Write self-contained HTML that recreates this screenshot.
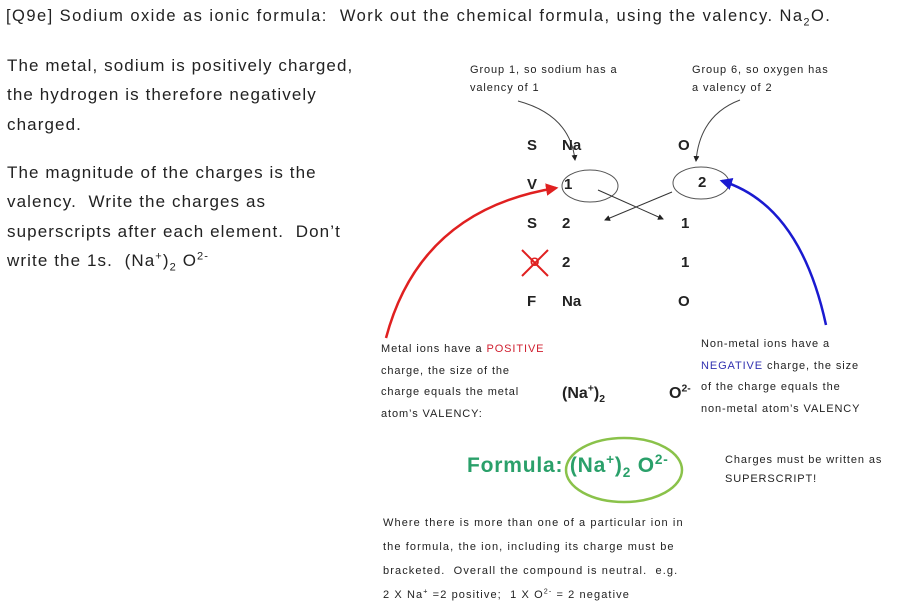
<!DOCTYPE html>
<html><head><meta charset="utf-8"><style>
body{margin:0;width:907px;height:602px;background:#fff;position:relative;overflow:hidden;font-family:"Liberation Sans",sans-serif;color:#222}
.a{position:absolute;white-space:nowrap}
.p{font-size:17px;line-height:29.3px;letter-spacing:1.1px}
.s{font-size:11px;line-height:21.5px;letter-spacing:0.9px}
.b{font-weight:bold;font-size:15px}
sup{font-size:65%;vertical-align:super;line-height:0}
sub{font-size:65%;vertical-align:sub;line-height:0}
</style></head><body>
<div class="a" style="left:6px;top:7px;font-size:16.5px;letter-spacing:1.45px">[Q9e] Sodium oxide as ionic formula:&nbsp; Work out the chemical formula, using the valency. Na<sub>2</sub>O.</div>
<div class="a p" style="left:7px;top:51px">The metal, sodium is positively charged,<br>the hydrogen is therefore negatively<br>charged.</div>
<div class="a p" style="left:7px;top:158px">The magnitude of the charges is the<br>valency.&nbsp; Write the charges as<br>superscripts after each element.&nbsp; Don’t<br>write the 1s.&nbsp; (Na<sup>+</sup>)<sub>2</sub> O<sup>2-</sup></div>
<div class="a s" style="left:470px;top:61px;line-height:18px">Group 1, so sodium has a<br>valency of 1</div>
<div class="a s" style="left:692px;top:61px;line-height:18px">Group 6, so oxygen has<br>a valency of 2</div>
<svg class="a" style="left:0;top:0" width="907" height="602">
<defs><marker id="m" markerWidth="6" markerHeight="6" refX="5" refY="3" orient="auto"><path d="M0,0L6,3L0,6z" fill="#222"/></marker>
<marker id="r" markerWidth="5" markerHeight="5" refX="4" refY="2.5" orient="auto"><path d="M0,0L5,2.5L0,5z" fill="#e02020"/></marker>
<marker id="bl" markerWidth="5" markerHeight="5" refX="4" refY="2.5" orient="auto"><path d="M0,0L5,2.5L0,5z" fill="#1a1ad0"/></marker></defs>
<path d="M518,101 Q570,115 575,160" fill="none" stroke="#444" stroke-width="1" marker-end="url(#m)"/>
<path d="M740,100 Q700,115 696,161" fill="none" stroke="#444" stroke-width="1" marker-end="url(#m)"/>
<ellipse cx="590" cy="186" rx="28" ry="16" fill="none" stroke="#555" stroke-width="1"/>
<ellipse cx="701" cy="183" rx="28" ry="16" fill="none" stroke="#555" stroke-width="1"/>
<line x1="598" y1="190" x2="663" y2="219" stroke="#333" marker-end="url(#m)"/>
<line x1="672" y1="192" x2="605" y2="220" stroke="#333" marker-end="url(#m)"/>
<path d="M386,338 Q420,210 556,188" fill="none" stroke="#e02020" stroke-width="2.5" marker-end="url(#r)"/>
<path d="M826,325 Q800,205 722,181" fill="none" stroke="#1a1ad0" stroke-width="2.5" marker-end="url(#bl)"/>
<line x1="522" y1="250" x2="548" y2="276" stroke="#e02020" stroke-width="2"/>
<line x1="548" y1="250" x2="522" y2="276" stroke="#e02020" stroke-width="2"/>
<ellipse cx="624" cy="470" rx="58" ry="32" fill="none" stroke="#8ac24a" stroke-width="2.5"/>
</svg>
<div class="a b" style="left:527px;top:137px">S</div><div class="a b" style="left:562px;top:137px">Na</div><div class="a b" style="left:678px;top:137px">O</div>
<div class="a b" style="left:527px;top:176px">V</div><div class="a b" style="left:564px;top:176px">1</div><div class="a b" style="left:698px;top:174px">2</div>
<div class="a b" style="left:527px;top:215px">S</div><div class="a b" style="left:562px;top:215px">2</div><div class="a b" style="left:681px;top:215px">1</div>
<div class="a b" style="left:530px;top:255px;color:#e02020;font-size:12px">O</div><div class="a b" style="left:562px;top:254px">2</div><div class="a b" style="left:681px;top:254px">1</div>
<div class="a b" style="left:527px;top:293px">F</div><div class="a b" style="left:562px;top:293px">Na</div><div class="a b" style="left:678px;top:293px">O</div>
<div class="a s" style="left:381px;top:339px">Metal ions have a <span style="color:#d02030">POSITIVE</span><br>charge, the size of the<br>charge equals the metal<br>atom’s VALENCY:</div>
<div class="a s" style="left:701px;top:334px">Non-metal ions have a<br><span style="color:#3030b0">NEGATIVE</span> charge, the size<br>of the charge equals the<br>non-metal atom’s VALENCY</div>
<div class="a b" style="left:562px;top:385px;font-size:16px">(Na<sup>+</sup>)<sub>2</sub></div>
<div class="a b" style="left:669px;top:385px;font-size:16px">O<sup>2-</sup></div>
<div class="a" style="left:467px;top:454px;font-size:21px;letter-spacing:0.8px;font-weight:bold;color:#2aa06a">Formula: (Na<sup>+</sup>)<sub>2</sub> O<sup>2-</sup></div>
<div class="a s" style="left:725px;top:451px;line-height:19px">Charges must be written as<br>SUPERSCRIPT!</div>
<div class="a s" style="left:383px;top:511px;line-height:24px;letter-spacing:1.1px">Where there is more than one of a particular ion in<br>the formula, the ion, including its charge must be<br>bracketed.&nbsp; Overall the compound is neutral.&nbsp; e.g.<br>2 X Na<sup>+</sup> =2 positive;&nbsp; 1 X O<sup>2-</sup> = 2 negative</div>
</body></html>
